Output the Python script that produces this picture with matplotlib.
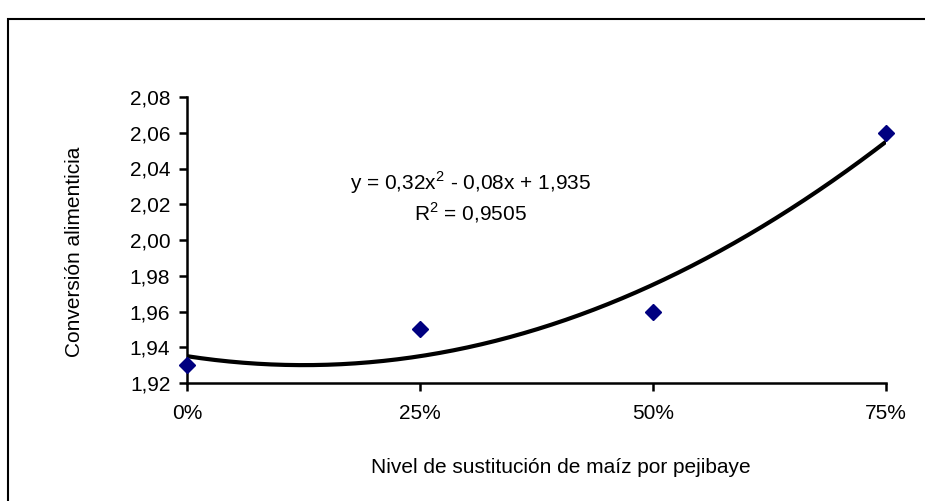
import numpy as np
import matplotlib
matplotlib.use("Agg")
import matplotlib.pyplot as plt
from matplotlib.patches import Rectangle
from matplotlib.ticker import FixedLocator, FuncFormatter

plt.rcParams['font.family'] = ['Liberation Sans', 'DejaVu Sans']
plt.rcParams['mathtext.fontset'] = 'custom'
plt.rcParams['mathtext.rm'] = 'Liberation Sans'

levels = [0.0, 0.25, 0.50, 0.75]
conversion = [1.93, 1.95, 1.96, 2.06]
coef = [0.32, -0.08, 1.935]
yticks = [1.92, 1.94, 1.96, 1.98, 2.00, 2.02, 2.04, 2.06, 2.08]

FS = 15

fig = plt.figure(figsize=(9.25, 5.01), dpi=100)
fig.patches.append(Rectangle((8/925, -0.5), 2.0, 1.5 - 19/501, transform=fig.transFigure,
                             fill=False, edgecolor='black', linewidth=1.5))
ax = fig.add_axes([187/925, 1-383/501, (886-187)/925, (383-97)/501])

xs = np.linspace(0, 0.75, 300)
ax.plot(xs, np.polyval(coef, xs), color='black', lw=3, zorder=2, solid_capstyle='butt')
ax.plot(levels, conversion, linestyle='none', marker='D', markersize=8.3,
        color='#000080', zorder=3, clip_on=False)

ax.set_xlim(0, 0.75)
ax.set_ylim(1.92, 2.08)
ax.xaxis.set_major_locator(FixedLocator(levels))
ax.yaxis.set_major_locator(FixedLocator(yticks))
ax.xaxis.set_major_formatter(FuncFormatter(lambda v, p: f"{v*100:.0f}%"))
ax.yaxis.set_major_formatter(FuncFormatter(lambda v, p: f"{v:.2f}".replace('.', ',')))
for s in ['top', 'right']:
    ax.spines[s].set_visible(False)
for s in ['left', 'bottom']:
    ax.spines[s].set_linewidth(1.8)
ax.tick_params(axis='both', direction='out', width=1.8, length=6, labelsize=FS, color='black')
ax.tick_params(axis='x', pad=9)
ax.tick_params(axis='y', pad=6)

fig.text(561/925, 1-473/501, "Nivel de sustitución de maíz por pejibaye", fontsize=FS,
         ha='center', va='baseline')
fig.text(75/925, 1-251.5/501, "Conversión alimenticia", fontsize=FS,
         ha='center', va='center', rotation=90)

ax.text(0.406, 0.699, "y = 0,32x$^{2}$ - 0,08x + 1,935", transform=ax.transAxes,
        ha='center', va='center', fontsize=FS)
ax.text(0.406, 0.594, "R$^{2}$ = 0,9505", transform=ax.transAxes,
        ha='center', va='center', fontsize=FS)

fig.savefig("out.png", dpi=100)
